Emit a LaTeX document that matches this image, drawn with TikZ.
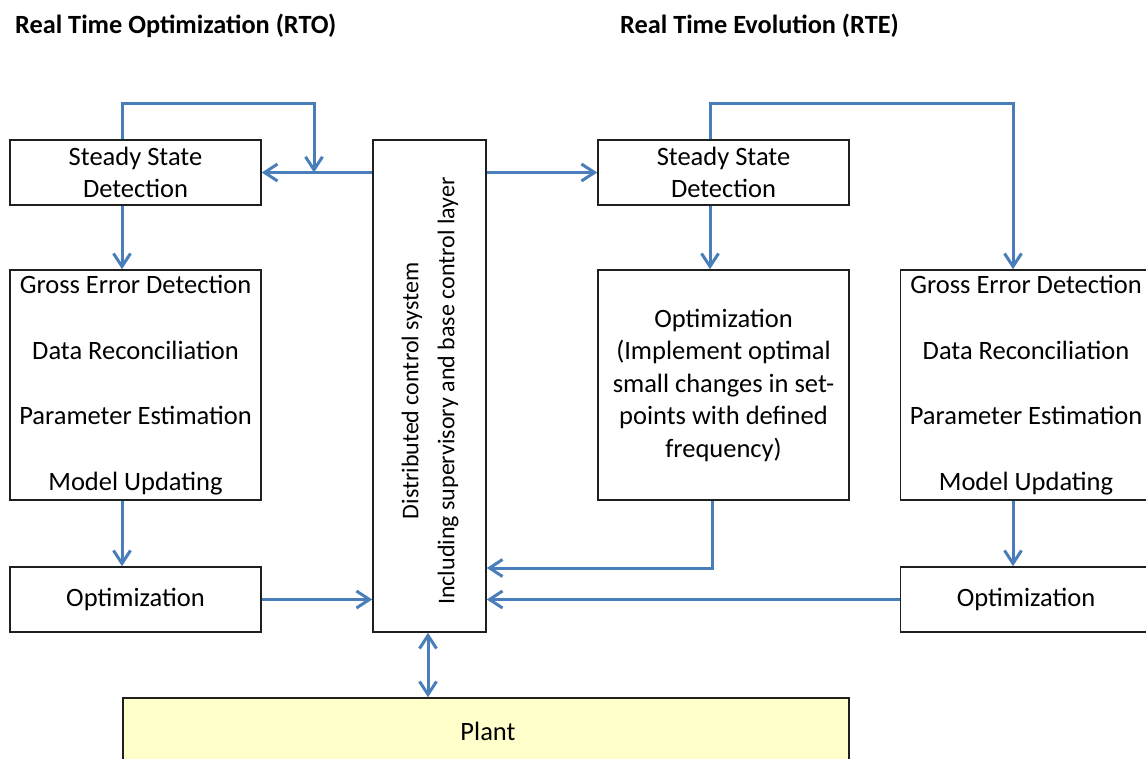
\documentclass[tikz,border=0pt]{standalone}
\usepackage{fontspec}
\setmainfont{Carlito}
\usetikzlibrary{arrows.meta,calc}
\definecolor{flowblue}{HTML}{4A7EBB}
\definecolor{plantyellow}{HTML}{FFFFCC}
\definecolor{edge}{HTML}{1F1F1F}
\begin{document}
\begin{tikzpicture}[x=1pt,y=-1pt,
  box/.style={draw=edge, line width=1.6pt, fill=white, align=center, inner sep=0pt,
    minimum width=251pt, minimum height=65pt, font=\fontsize{26.5}{32.5}\selectfont},
  tallbox/.style={box, minimum height=230pt},
  listbox/.style={tallbox, font=\fontsize{26.5}{65.5}\selectfont},
  title/.style={anchor=west, inner sep=0pt, font=\fontsize{26.3}{30}\selectfont\bfseries},
  flow/.style={draw=flowblue, line width=3pt, -{Straight Barb[length=13pt,width=17pt,line width=3pt]}},
  flowboth/.style={flow, {Straight Barb[length=13pt,width=17pt,line width=3pt]}-{Straight Barb[length=13pt,width=17pt,line width=3pt]}}
]
\clip (0,0) rectangle (1146,758);
\fill[white] (0,0) rectangle (1146,758);

% headings
\node[title] (hRTO) at (15,26) {Real Time Optimization (RTO)};
\node[title] (hRTE) at (620,26) {Real Time Evolution (RTE)};

% RTO column
\node[box] (ssdL) at (135.5,172.5) {Steady State\\Detection};
\node[listbox] (gedL) at (135.5,385) {Gross Error Detection\\Data Reconciliation\\Parameter Estimation\\Model Updating};
\node[box] (optL) at (135.5,599.5) {Optimization};

% distributed control system
\node[draw=edge, line width=1.6pt, fill=white, minimum width=113pt, minimum height=492pt, inner sep=0pt] (dcs) at (429.5,386) {};
\node[rotate=90, align=center, inner sep=0pt, font=\fontsize{24}{36}\selectfont] (dcsText) at (430,391)
  {Distributed control system\\Including supervisory and base control layer};

% RTE column
\node[box] (ssdR) at (723.5,172.5) {Steady State\\Detection};
\node[tallbox] (optM) at (723.5,385) {Optimization\\(Implement optimal\\small changes in set-\\points with defined\\frequency)};
\node[listbox] (gedR) at (1026,385) {Gross Error Detection\\Data Reconciliation\\Parameter Estimation\\Model Updating};
\node[box] (optR) at (1026,599.5) {Optimization};

% plant
\node[draw=edge, line width=1.6pt, fill=plantyellow, minimum width=726pt, minimum height=84pt, inner sep=0pt] (plant) at (486,740) {};
\node[font=\fontsize{26.5}{30}\selectfont, inner sep=0pt] (plantText) at (488,731) {Plant};

% RTO connectors
\coordinate (jL) at (314,172.5);
\draw[flow] (dcs.west |- ssdL.east) -- (ssdL.east);
\draw[flow] ([xshift=-13.5pt]ssdL.north) |- (314,103) -- (jL);
\draw[flow] ([xshift=-13.5pt]ssdL.south) -- ([xshift=-13.5pt]gedL.north);
\draw[flow] ([xshift=-13.5pt]gedL.south) -- ([xshift=-13.5pt]optL.north);
\draw[flow] (optL.east) -- (optL.east -| dcs.west);

% RTE connectors
\draw[flow] (dcs.east |- ssdR.west) -- (ssdR.west);
\draw[flow] ([xshift=-13.5pt]ssdR.north) |- (1013,103) -- ([xshift=-13pt]gedR.north);
\draw[flow] ([xshift=-13.5pt]ssdR.south) -- ([xshift=-13.5pt]optM.north);
\draw[flow] ([xshift=-11.5pt]optM.south) |- ($(dcs.east)+(0,182)$);
\draw[flow] ([xshift=-13pt]gedR.south) -- ([xshift=-13pt]optR.north);
\draw[flow] (optR.west) -- (optR.west -| dcs.east);

% link to the plant
\draw[flowboth] ([xshift=-1.5pt]dcs.south) -- ([xshift=-1.5pt]dcs.south |- plant.north);
\end{tikzpicture}
\end{document}
